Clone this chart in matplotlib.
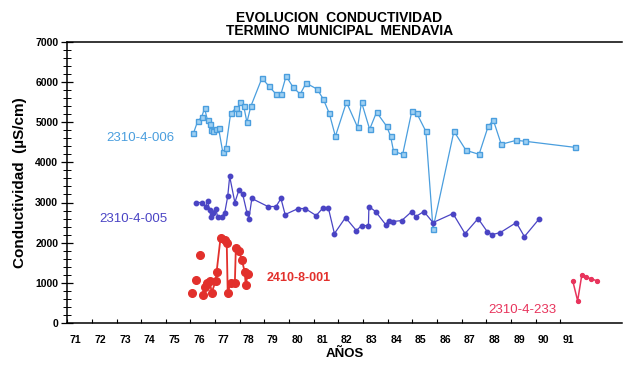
"""Evolucion conductividad - Termino municipal Mendavia."""
import matplotlib
matplotlib.use("Agg")
import matplotlib.pyplot as plt
import matplotlib.transforms as mtransforms
from matplotlib.ticker import MultipleLocator

plt.rcParams["font.family"] = ["Liberation Sans Narrow", "Liberation Sans", "DejaVu Sans"]

# ── data (año, µS/cm) ──
years_006 = [76.12, 76.29, 76.45, 76.57, 76.69, 76.78, 76.82, 76.90, 77.02, 77.14,
             77.31, 77.43, 77.63, 77.84, 77.92, 78.00, 78.16, 78.29, 78.45, 78.90,
             79.18, 79.47, 79.67, 79.88, 80.16, 80.45, 80.69, 81.14, 81.39, 81.63,
             81.88, 82.33, 82.78, 82.94, 83.27, 83.55, 83.96, 84.12, 84.24, 84.61,
             84.98, 85.18, 85.55, 85.84, 86.69, 87.18, 87.71, 88.08, 88.29, 88.61,
             89.22, 89.59, 91.59]
cond_006 = [4725, 5025, 5125, 5350, 5050, 4950, 4800, 4775, 4825, 4850,
            4250, 4350, 5225, 5350, 5225, 5500, 5400, 5000, 5400, 6100,
            5900, 5700, 5700, 6150, 5875, 5700, 5975, 5825, 5575, 5225,
            4650, 5500, 4875, 5500, 4825, 5250, 4900, 4650, 4275, 4200,
            5275, 5225, 4775, 2350, 4775, 4300, 4200, 4900, 5050, 4450,
            4550, 4525, 4375]

years_005 = [76.24, 76.45, 76.61, 76.69, 76.78, 76.82, 76.90, 77.02, 77.10, 77.27,
             77.39, 77.51, 77.59, 77.80, 77.96, 78.12, 78.29, 78.37, 78.49, 79.14,
             79.47, 79.67, 79.84, 80.37, 80.65, 81.10, 81.39, 81.59, 81.84, 82.29,
             82.73, 82.94, 83.22, 83.24, 83.51, 83.92, 84.04, 84.20, 84.57, 84.98,
             85.14, 85.47, 85.84, 86.65, 87.14, 87.67, 88.04, 88.24, 88.57, 89.22,
             89.55, 90.16]
cond_005 = [3000, 3000, 2900, 3025, 2825, 2650, 2750, 2850, 2650, 2650,
            2750, 3150, 3650, 3000, 3300, 3200, 2750, 2600, 3100, 2900,
            2900, 3100, 2700, 2850, 2850, 2675, 2875, 2875, 2225, 2625,
            2300, 2425, 2425, 2900, 2775, 2450, 2550, 2525, 2550, 2775,
            2650, 2775, 2500, 2725, 2225, 2600, 2275, 2200, 2250, 2500,
            2150, 2600]

years_001 = [76.08, 76.24, 76.37, 76.49, 76.57, 76.65, 76.78, 76.86, 77.02, 77.06,
             77.22, 77.39, 77.47, 77.51, 77.63, 77.80, 77.84, 77.96, 78.08, 78.20,
             78.24, 78.33]
cond_001 = [750, 1075, 1700, 700, 900, 1000, 1050, 750, 1050, 1275,
            2125, 2075, 2000, 750, 1000, 1000, 1875, 1800, 1575, 1275,
            950, 1225]

years_233 = [91.51, 91.71, 91.88, 92.04, 92.24, 92.49]
cond_233 = [1050, 550, 1200, 1150, 1100, 1050]

YEAR_TICKS = list(range(71, 92))

C006 = "#4a9ede"
C005 = "#4a44c4"
C001 = "#e2302c"
C233 = "#e8345c"

fig = plt.figure(figsize=(6.23, 3.75), dpi=100)
ax = fig.add_axes([0.108, 0.139, 0.89, 0.749])

ax.plot(years_006, cond_006, color=C006, lw=0.9, marker="s", ms=3.6,
        mfc="#9fd0f2", mec=C006, mew=1.0, zorder=3)
ax.plot(years_005, cond_005, color=C005, lw=0.9, marker="o", ms=3.2,
        mfc=C005, mec=C005, zorder=3)
# first three red samples are isolated dots in the original
ax.plot(years_001[:3], cond_001[:3], ls="none", marker="o", ms=5.5, color=C001, zorder=3)
ax.plot(years_001[3:], cond_001[3:], color=C001, lw=1.3, marker="o", ms=5.5, zorder=3)
ax.plot(years_233, cond_233, color=C233, lw=1.1, marker="o", ms=2.8, zorder=3)

# series names written on the chart
ax.text(72.6, 4600, "2310-4-006", color=C006, fontsize=9.5, va="center")
ax.text(72.3, 2600, "2310-4-005", color=C005, fontsize=9.5, va="center")
ax.text(79.1, 1125, "2410-8-001", color=C001, fontsize=9, fontweight="bold", va="center")
ax.text(88.1, 325, "2310-4-233", color=C233, fontsize=9.5, va="center")

ax.set_xlim(71, 93.5)
ax.set_ylim(0, 7000)
ax.yaxis.set_major_locator(MultipleLocator(1000))
ax.yaxis.set_minor_locator(MultipleLocator(200))
ax.set_xticks(YEAR_TICKS)
ax.set_xticklabels([str(y) for y in YEAR_TICKS], fontweight="bold", fontsize=7.5)
ax.tick_params(axis="x", direction="in", length=3, width=0.8, pad=9)
ax.tick_params(axis="y", which="major", direction="inout", length=9, width=0.9, pad=2)
ax.tick_params(axis="y", which="minor", direction="inout", length=6, width=0.7)
# the scanned labels sit a little to the right of their ticks
shift = mtransforms.ScaledTranslation(6 / 72, 0, fig.dpi_scale_trans)
for lab in ax.get_xticklabels():
    lab.set_transform(lab.get_transform() + shift)
for lab in ax.get_yticklabels():
    lab.set_fontweight("bold")
    lab.set_fontsize(7.5)

for side in ("top", "left", "bottom"):
    ax.spines[side].set_linewidth(1.1)
ax.spines["right"].set_visible(False)

ax.set_ylabel("Conductividad  (µS/cm)", fontsize=11, fontweight="bold", labelpad=6)
ax.set_xlabel("AÑOS", fontsize=9.5, fontweight="bold", labelpad=2)
fig.text(0.545, 0.935, "EVOLUCION  CONDUCTIVIDAD\nTERMINO  MUNICIPAL  MENDAVIA",
         ha="center", va="center", fontsize=10, fontweight="bold", linespacing=0.95)

fig.savefig("out.png", dpi=100, facecolor="white")
